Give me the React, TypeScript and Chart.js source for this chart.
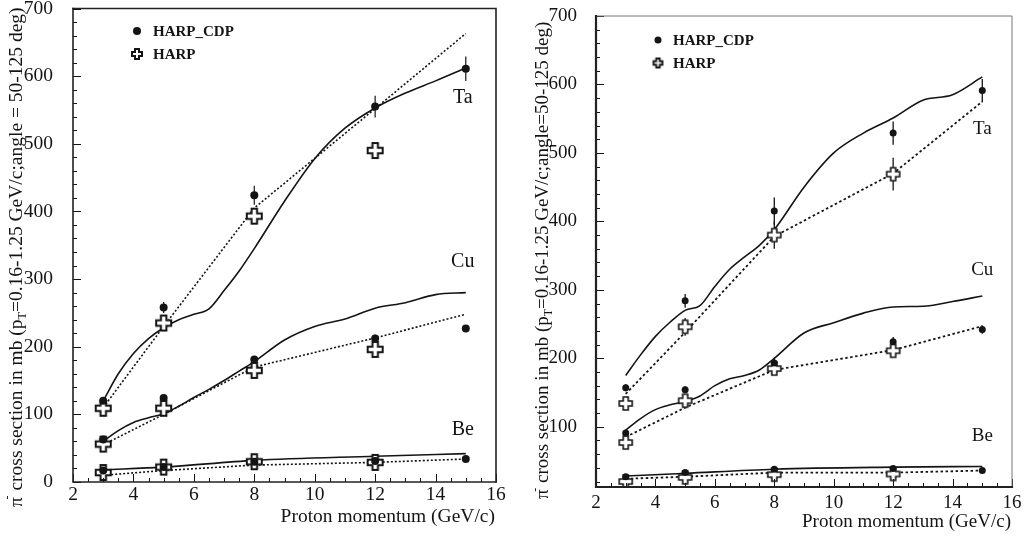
import React, { useEffect, useRef } from "react";
import { Chart, registerables } from "chart.js";

Chart.register(...registerables);

const PAGE_W = 1024;
const PAGE_H = 541;
const SERIF = "'Liberation Serif', 'Times New Roman', 'DejaVu Serif', serif";
const INK = "#141414";

// Beam momenta (GeV/c) of the measured points
const momentaCdp = [3, 5, 8, 12, 15];
const momentaHarp = [3, 5, 8, 12];
// Sampling of the model curves (GeV/c)
const curveGrid = [3, 3.5, 4, 4.5, 5, 5.5, 6, 6.5, 7, 7.5, 8, 9, 10, 11, 12, 13, 14, 15];

// ---------- left panel ----------
const leftCdpTa = [120, 258, 424, 555, 611];
const leftCdpTaErr = [4, 8, 14, 16, 18];
const leftCdpCu = [63, 124, 181, 212, 227];
const leftCdpCuErr = [3, 4, 5, 6, 5];
const leftCdpBe = [17, 22, 30, 31, 34];
const leftCdpBeErr = [1, 1, 2, 2, 2];
const leftHarpTa = [109, 235, 393, 490];
const leftHarpCu = [56, 109, 165, 196];
const leftHarpBe = [14, 22, 30, 29];
const leftHarpErr = [0, 0, 0, 0];

const leftSolidTa = [120, 160, 190, 212, 228, 240, 248, 256, 283, 312, 345, 415, 478, 523, 553, 575, 593, 612];
const leftSolidCu = [60, 76, 88, 95, 101, 112, 125, 137, 150, 164, 178, 210, 230, 241, 257, 265, 277, 280];
const leftSolidBe = [18, 22, 32, 38, 42];
const leftDottedTa = [110, 230, 405, 552, 663];
const leftDottedCu = [55, 100, 170, 213, 248];
const leftDottedBe = [10, 17, 25, 29, 34];

// ---------- right panel ----------
const rightCdpTa = [157, 284, 415, 529, 591];
const rightCdpTaErr = [5, 10, 20, 17, 17];
const rightCdpCu = [91, 154, 193, 224, 242];
const rightCdpCuErr = [3, 5, 8, 7, 6];
const rightCdpBe = [27, 33, 38, 39, 36];
const rightCdpBeErr = [2, 2, 3, 3, 2];
const rightHarpTa = [134, 246, 380, 469];
const rightHarpTaErr = [6, 13, 20, 24];
const rightHarpCu = [77, 138, 185, 211];
const rightHarpCuErr = [4, 6, 8, 8];
const rightHarpBe = [20, 26, 30, 31];
const rightHarpBeErr = [2, 2, 2, 2];

const rightSolidTa = [175, 205, 232, 253, 270, 277, 305, 330, 348, 365, 388, 450, 500, 529, 551, 577, 585, 611];
const rightSolidCu = [95, 112, 125, 132, 137, 145, 160, 170, 175, 183, 200, 237, 252, 266, 275, 276, 283, 291];
const rightSolidBe = [28, 32, 38, 41, 42];
const rightDottedTa = [148, 238, 378, 470, 575];
const rightDottedCu = [85, 128, 183, 212, 247];
const rightDottedBe = [24, 27, 33, 33, 36];

// Target labels and their anchor positions (data units)
const targetNames = ["Ta", "Cu", "Be"];
const leftLabelX = 14.9;
const leftLabelY = [568, 326, 77];
const rightLabelX = 15.0;
const rightLabelY = [535, 329, 87];

const legendNames = ["HARP_CDP", "HARP"];
const xTitle = "Proton momentum (GeV/c)";
const leftYTitleTail = "=0.16-1.25 GeV/c;angle = 50-125 deg)";
const rightYTitleTail = "=0.16-1.25 GeV/c;angle=50-125 deg)";

type Curve = { xs: number[]; ys: number[]; dotted: boolean };
type Marks = { xs: number[]; ys: number[]; err: number[] };
type Label = { text: string; x: number; y: number };

type PanelSpec = {
  offset: number;
  width: number;
  area: { left: number; right: number; top: number; bottom: number };
  yMin: number;
  yMax: number;
  cdp: Marks[];
  harp: Marks[];
  curves: Curve[];
  labels: Label[];
  dotRadius: number;
  cross: { size: number; arm: number; lw: number };
  legendCross: { size: number; arm: number; lw: number };
  dash: number[];
  lineWidth: number;
  dottedWidth: number;
  errLw: number;
  tickFont: number;
  tickPadX: number;
  tickPadY: number;
  titleFont: number;
  yTitleX: number;
  yTitleStart: number;
  yTitleTail: string;
  xTitleY: number;
  labelFont: number;
  legend: { x: number; textX: number; y1: number; y2: number; font: number; r: number };
  frame: { lw: number; color: string; farLw: number; farColor: string };
  majorLen: number;
  minorLen: number;
};

const zip = (xs: number[], ys: number[]) => ys.map((y, i) => ({ x: xs[i], y }));

function makeCross(size: number, arm: number, lw: number): HTMLCanvasElement {
  const pad = Math.ceil(lw) + 1;
  const dim = Math.ceil(size + pad * 2);
  const c = document.createElement("canvas");
  c.width = dim;
  c.height = dim;
  const g = c.getContext("2d")!;
  const m = dim / 2;
  const s = size / 2;
  const a = arm / 2;
  const pts = [
    [-a, -s], [a, -s], [a, -a], [s, -a], [s, a], [a, a],
    [a, s], [-a, s], [-a, a], [-s, a], [-s, -a], [-a, -a],
  ];
  g.beginPath();
  pts.forEach(([px, py], i) => (i ? g.lineTo(m + px, m + py) : g.moveTo(m + px, m + py)));
  g.closePath();
  g.fillStyle = "#ffffff";
  g.fill();
  g.lineWidth = lw;
  g.strokeStyle = INK;
  g.lineJoin = "miter";
  g.stroke();
  return c;
}

function drawYTitle(ctx: CanvasRenderingContext2D, cx: number, startY: number, size: number, tail: string) {
  ctx.save();
  ctx.translate(cx, startY);
  ctx.rotate(-Math.PI / 2);
  ctx.textBaseline = "middle";
  ctx.textAlign = "left";
  ctx.fillStyle = INK;
  const parts = [
    { t: "π", k: 1, dy: 0, dx: 0 },
    { t: "-", k: 0.62, dy: -0.45, dx: -0.12 },
    { t: " cross section in mb (p", k: 1, dy: 0, dx: 0 },
    { t: "T", k: 0.62, dy: 0.32, dx: 0 },
    { t: tail, k: 1, dy: 0, dx: 0 },
  ];
  let x = 0;
  for (const p of parts) {
    ctx.font = `${size * p.k}px ${SERIF}`;
    x += p.dx * size;
    ctx.fillText(p.t, x, p.dy * size);
    x += ctx.measureText(p.t).width;
  }
  ctx.restore();
}

function decorPlugin(spec: PanelSpec, legendCross: HTMLCanvasElement) {
  return {
    id: "panelDecor",
    beforeDatasetsDraw(chart: any) {
      const ctx: CanvasRenderingContext2D = chart.ctx;
      const xs = chart.scales.x;
      const ys = chart.scales.y;
      ctx.save();
      ctx.strokeStyle = INK;
      ctx.lineWidth = spec.errLw;
      for (const m of [...spec.cdp, ...spec.harp]) {
        m.ys.forEach((v, i) => {
          const d = m.err[i];
          if (!d) return;
          const px = xs.getPixelForValue(m.xs[i]);
          ctx.beginPath();
          ctx.moveTo(px, ys.getPixelForValue(v - d));
          ctx.lineTo(px, ys.getPixelForValue(v + d));
          ctx.stroke();
        });
      }
      ctx.restore();
    },
    afterDraw(chart: any) {
      const ctx: CanvasRenderingContext2D = chart.ctx;
      const xs = chart.scales.x;
      const ys = chart.scales.y;
      const a = chart.chartArea;
      ctx.save();

      // tick marks on the inner side of the left and bottom axes
      ctx.strokeStyle = INK;
      ctx.lineWidth = 1;
      for (let v = Math.ceil(spec.yMin / 20) * 20; v <= spec.yMax; v += 20) {
        const py = Math.round(ys.getPixelForValue(v)) + 0.5;
        const len = v % 100 === 0 ? spec.majorLen : spec.minorLen;
        ctx.beginPath();
        ctx.moveTo(a.left, py);
        ctx.lineTo(a.left + len, py);
        ctx.stroke();
      }
      for (let v = 2; v <= 16; v += 0.5) {
        const px = Math.round(xs.getPixelForValue(v)) + 0.5;
        const len = v % 2 === 0 ? spec.majorLen : spec.minorLen;
        ctx.beginPath();
        ctx.moveTo(px, a.bottom);
        ctx.lineTo(px, a.bottom - len);
        ctx.stroke();
      }

      // frame
      ctx.lineCap = "square";
      ctx.strokeStyle = spec.frame.farColor;
      ctx.lineWidth = spec.frame.farLw;
      ctx.beginPath();
      ctx.moveTo(a.left, a.top);
      ctx.lineTo(a.right, a.top);
      ctx.lineTo(a.right, a.bottom);
      ctx.stroke();
      ctx.strokeStyle = spec.frame.color;
      ctx.lineWidth = spec.frame.lw;
      ctx.beginPath();
      ctx.moveTo(a.left, a.top);
      ctx.lineTo(a.left, a.bottom);
      ctx.lineTo(a.right, a.bottom);
      ctx.stroke();

      // target names beside the curves
      ctx.fillStyle = INK;
      ctx.font = `${spec.labelFont}px ${SERIF}`;
      ctx.textAlign = "center";
      ctx.textBaseline = "middle";
      for (const l of spec.labels) {
        ctx.fillText(l.text, xs.getPixelForValue(l.x), ys.getPixelForValue(l.y));
      }

      // legend
      const lg = spec.legend;
      ctx.beginPath();
      ctx.arc(lg.x, lg.y1, lg.r, 0, Math.PI * 2);
      ctx.fill();
      ctx.drawImage(legendCross, lg.x - legendCross.width / 2, lg.y2 - legendCross.height / 2);
      ctx.font = `bold ${lg.font}px ${SERIF}`;
      ctx.textAlign = "left";
      ctx.fillText(legendNames[0], lg.textX, lg.y1 + 1);
      ctx.fillText(legendNames[1], lg.textX, lg.y2 + 1);

      // axis titles
      ctx.font = `${spec.titleFont}px ${SERIF}`;
      ctx.textAlign = "right";
      ctx.fillText(xTitle, a.right - 1, spec.xTitleY);
      drawYTitle(ctx, spec.yTitleX, spec.yTitleStart, spec.titleFont, spec.yTitleTail);

      ctx.restore();
    },
  };
}

function buildConfig(spec: PanelSpec): any {
  const cross = makeCross(spec.cross.size, spec.cross.arm, spec.cross.lw);
  const legendCross = makeCross(spec.legendCross.size, spec.legendCross.arm, spec.legendCross.lw);

  const curveSets = spec.curves.map((c) => ({
    data: zip(c.xs, c.ys),
    showLine: true,
    pointRadius: 0,
    borderColor: INK,
    borderWidth: c.dotted ? spec.dottedWidth : spec.lineWidth,
    borderDash: c.dotted ? spec.dash : [],
    tension: c.dotted ? 0 : 0.4,
    cubicInterpolationMode: c.dotted ? "default" : "monotone",
    order: 2,
  }));
  const cdpSets = spec.cdp.map((m) => ({
    data: zip(m.xs, m.ys),
    showLine: false,
    pointStyle: "circle",
    pointRadius: spec.dotRadius,
    backgroundColor: INK,
    borderWidth: 0,
    order: 0,
  }));
  const harpSets = spec.harp.map((m) => ({
    data: zip(m.xs, m.ys),
    showLine: false,
    pointStyle: cross,
    pointRadius: spec.cross.size / 2,
    order: 1,
  }));

  const tickFont = { family: SERIF, size: spec.tickFont };
  const zeroPad = (s: any) => {
    s.paddingTop = 0;
    s.paddingBottom = 0;
    s.paddingLeft = 0;
    s.paddingRight = 0;
  };

  return {
    type: "scatter",
    data: { datasets: [...cdpSets, ...harpSets, ...curveSets] },
    options: {
      animation: false,
      responsive: false,
      maintainAspectRatio: false,
      events: [],
      layout: {
        padding: { left: 0, top: spec.area.top, right: spec.width - spec.area.right, bottom: 0 },
      },
      plugins: { legend: { display: false }, tooltip: { enabled: false } },
      scales: {
        x: {
          type: "linear",
          min: 2,
          max: 16,
          border: { display: false },
          grid: { display: false, drawTicks: false },
          ticks: { stepSize: 2, font: tickFont, color: INK, padding: spec.tickPadX, maxRotation: 0 },
          afterFit: (s: any) => {
            s.height = PAGE_H - spec.area.bottom;
            zeroPad(s);
          },
        },
        y: {
          type: "linear",
          min: spec.yMin,
          max: spec.yMax,
          border: { display: false },
          grid: { display: false, drawTicks: false },
          ticks: { stepSize: 100, font: tickFont, color: INK, padding: spec.tickPadY },
          afterBuildTicks: (s: any) => {
            s.ticks = s.ticks.filter((t: any) => t.value % 100 === 0);
          },
          afterFit: (s: any) => {
            s.width = spec.area.left;
            zeroPad(s);
          },
        },
      },
    },
    plugins: [decorPlugin(spec, legendCross)],
  };
}

const leftSpec: PanelSpec = {
  offset: 0,
  width: 512,
  area: { left: 73, right: 496, top: 7, bottom: 482 },
  yMin: 0,
  yMax: 700,
  cdp: [
    { xs: momentaCdp, ys: leftCdpTa, err: leftCdpTaErr },
    { xs: momentaCdp, ys: leftCdpCu, err: leftCdpCuErr },
    { xs: momentaCdp, ys: leftCdpBe, err: leftCdpBeErr },
  ],
  harp: [
    { xs: momentaHarp, ys: leftHarpTa, err: leftHarpErr },
    { xs: momentaHarp, ys: leftHarpCu, err: leftHarpErr },
    { xs: momentaHarp, ys: leftHarpBe, err: leftHarpErr },
  ],
  curves: [
    { xs: curveGrid, ys: leftSolidTa, dotted: false },
    { xs: curveGrid, ys: leftSolidCu, dotted: false },
    { xs: momentaCdp, ys: leftSolidBe, dotted: false },
    { xs: momentaCdp, ys: leftDottedTa, dotted: true },
    { xs: momentaCdp, ys: leftDottedCu, dotted: true },
    { xs: momentaCdp, ys: leftDottedBe, dotted: true },
  ],
  labels: targetNames.map((t, i) => ({ text: t, x: leftLabelX, y: leftLabelY[i] })),
  dotRadius: 4,
  cross: { size: 15, arm: 5.5, lw: 2 },
  legendCross: { size: 10, arm: 4, lw: 2 },
  dash: [2, 2],
  lineWidth: 1.6,
  dottedWidth: 1.6,
  errLw: 1.2,
  tickFont: 19.5,
  tickPadX: 1,
  tickPadY: 20,
  titleFont: 19.5,
  yTitleX: 17,
  yTitleStart: 507,
  yTitleTail: leftYTitleTail,
  xTitleY: 517,
  labelFont: 20,
  legend: { x: 137, textX: 153, y1: 31, y2: 54, font: 15, r: 4 },
  frame: { lw: 1.6, color: "#222", farLw: 1.6, farColor: "#222" },
  majorLen: 8,
  minorLen: 4,
};

const rightSpec: PanelSpec = {
  offset: 512,
  width: 512,
  area: { left: 84, right: 500, top: 16, bottom: 487 },
  yMin: 12,
  yMax: 700,
  cdp: [
    { xs: momentaCdp, ys: rightCdpTa, err: rightCdpTaErr },
    { xs: momentaCdp, ys: rightCdpCu, err: rightCdpCuErr },
    { xs: momentaCdp, ys: rightCdpBe, err: rightCdpBeErr },
  ],
  harp: [
    { xs: momentaHarp, ys: rightHarpTa, err: rightHarpTaErr },
    { xs: momentaHarp, ys: rightHarpCu, err: rightHarpCuErr },
    { xs: momentaHarp, ys: rightHarpBe, err: rightHarpBeErr },
  ],
  curves: [
    { xs: curveGrid, ys: rightSolidTa, dotted: false },
    { xs: curveGrid, ys: rightSolidCu, dotted: false },
    { xs: momentaCdp, ys: rightSolidBe, dotted: false },
    { xs: momentaCdp, ys: rightDottedTa, dotted: true },
    { xs: momentaCdp, ys: rightDottedCu, dotted: true },
    { xs: momentaCdp, ys: rightDottedBe, dotted: true },
  ],
  labels: targetNames.map((t, i) => ({ text: t, x: rightLabelX, y: rightLabelY[i] })),
  dotRadius: 3.5,
  cross: { size: 13, arm: 5, lw: 1.6 },
  legendCross: { size: 9, arm: 3.5, lw: 1.8 },
  dash: [2.5, 2.5],
  lineWidth: 1.6,
  dottedWidth: 1.8,
  errLw: 1.3,
  tickFont: 19,
  tickPadX: 5,
  tickPadY: 19,
  titleFont: 19,
  yTitleX: 31,
  yTitleStart: 499,
  yTitleTail: rightYTitleTail,
  xTitleY: 522,
  labelFont: 19,
  legend: { x: 146, textX: 161, y1: 40, y2: 63, font: 15, r: 3.5 },
  frame: { lw: 2.2, color: "#222", farLw: 1, farColor: "#777" },
  majorLen: 8,
  minorLen: 4,
};

function Panel({ spec }: { spec: PanelSpec }) {
  const ref = useRef<HTMLCanvasElement>(null);
  useEffect(() => {
    const canvas = ref.current;
    if (!canvas) return;
    const chart = new Chart(canvas, buildConfig(spec));
    return () => chart.destroy();
  }, [spec]);
  return (
    <canvas
      ref={ref}
      width={spec.width}
      height={PAGE_H}
      style={{ position: "absolute", left: spec.offset, top: 0, width: spec.width, height: PAGE_H }}
    />
  );
}

export default function App() {
  return (
    <div
      style={{
        position: "fixed",
        left: 0,
        top: 0,
        width: PAGE_W,
        height: PAGE_H,
        background: "#ffffff",
        overflow: "hidden",
      }}
    >
      <Panel spec={leftSpec} />
      <Panel spec={rightSpec} />
    </div>
  );
}
